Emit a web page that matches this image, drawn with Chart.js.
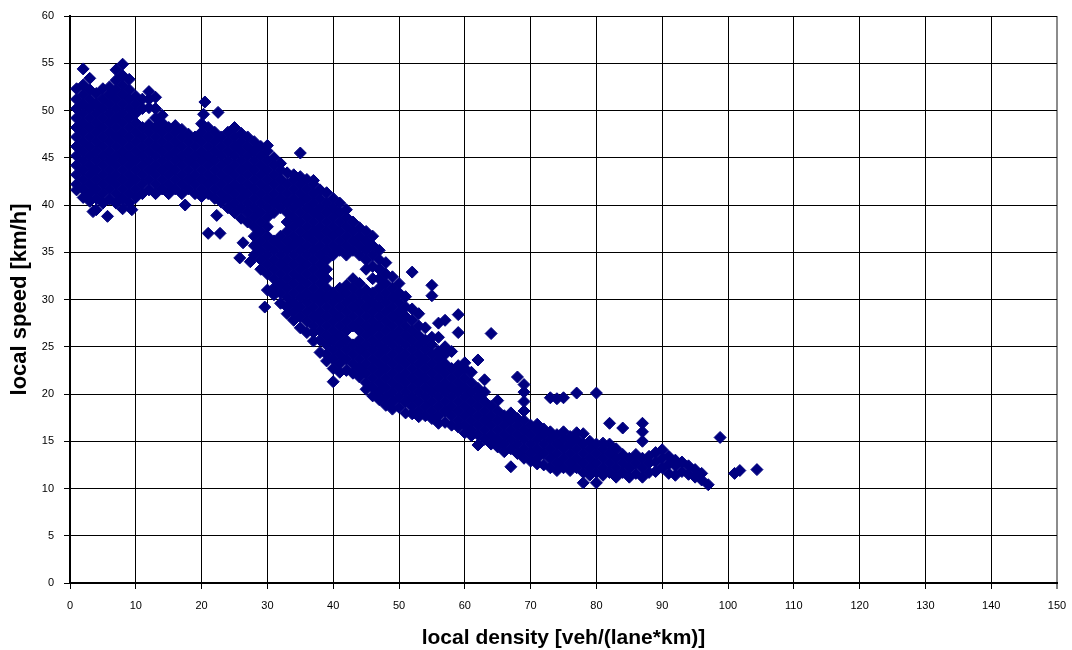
<!DOCTYPE html>
<html>
<head>
<meta charset="utf-8">
<script src="https://cdn.jsdelivr.net/npm/chart.js@4/dist/chart.umd.min.js"></script>
<style>
html,body{margin:0;padding:0;background:#fff;}
canvas{display:block;}
</style>
</head>
<body>
<canvas id="c" width="1072" height="650"></canvas>
<script>
// ---- tick labels / titles ----
const xTicks = [0,10,20,30,40,50,60,70,80,90,100,110,120,130,140,150];
const yTicks = [0,5,10,15,20,25,30,35,40,45,50,55,60];
const xTitle = 'local density [veh/(lane*km)]';
const yTitle = 'local speed [km/h]';

// ---- free-flow part: density column -> speeds read in that column ----
const freeDensity = [1,2,3,4,5,6,7,8,9,10,11,12,13,14,15,16,17,18,19,20,21,22,23,24,25,26,27,28,29,30];
const freeSpeed = [
  [41.6,42.2,43.2,44.2,45.2,46.2,47.2,48.2,49.2,50.2,51.2,52.3],
  [40.8,41.7,42.7,43.7,44.7,45.7,46.7,47.7,48.7,49.7,50.7,51.7,52.7,54.4],
  [40.4,41.2,42.2,43.2,44.2,45.2,46.2,47.2,48.2,49.2,50.2,51.2,52.2,53.4],
  [39.5,40.7,41.7,42.7,43.7,44.7,45.7,46.7,47.7,48.7,49.7,50.7,51.8],
  [40.2,41.2,42.2,43.2,44.2,45.2,46.2,47.2,48.2,49.2,50.2,51.2,52.3],
  [40.6,41.7,42.7,43.7,44.7,45.7,46.7,47.7,48.7,49.7,50.7,51.7,52.5],
  [40.2,41.2,42.2,43.2,44.2,45.2,46.2,47.2,48.2,49.2,50.2,51.2,52.2,53.2,54.3],
  [39.6,40.7,41.7,42.7,43.7,44.7,45.7,46.7,47.7,48.7,49.7,50.7,51.7,52.7,53.7,54.9],
  [40.2,41.2,42.2,43.2,44.2,45.2,46.2,47.2,48.2,49.2,50.2,51.2,52.2,53.3],
  [40.8,41.7,42.7,43.7,44.7,45.7,46.7,47.7,48.7,49.7,50.7,51.5],
  [41.2,42.2,43.2,44.2,45.2,46.2,47.2,48.2,50.2,51.2],
  [41.6,42.7,43.7,44.7,45.7,46.7,47.7,48.5,50.3,51.2,52.0],
  [41.2,42.2,43.2,44.2,45.2,46.2,47.2,48.2,49.2,50.2,51.4],
  [41.7,42.7,43.7,44.7,45.7,46.7,47.7,48.7,49.5],
  [41.2,42.2,43.2,44.2,45.2,46.2,47.2,48.2],
  [41.7,42.7,43.7,44.7,45.7,46.7,47.7,48.4],
  [41.2,42.2,43.2,44.2,45.2,46.2,47.2,48.0],
  [41.7,42.7,43.7,44.7,45.7,46.7,47.5],
  [41.2,42.2,43.2,44.2,45.2,46.2,47.2],
  [40.9,41.7,42.7,43.7,44.7,45.7,46.7,47.7,48.6],
  [41.2,42.2,43.2,44.2,45.2,46.2,47.2,48.2],
  [40.7,41.7,42.7,43.7,44.7,45.7,46.7,47.7],
  [40.3,41.2,42.2,43.2,44.2,45.2,46.2,47.2],
  [39.7,40.7,41.7,42.7,43.7,44.7,45.7,46.7,47.7],
  [39.2,40.2,41.2,42.2,43.2,44.2,45.2,46.2,47.2,48.2],
  [38.6,39.7,40.7,41.7,42.7,43.7,44.7,45.7,46.7,47.6],
  [38.2,39.2,40.2,41.2,42.2,43.2,44.2,45.2,46.2,47.2],
  [34.7,35.7,36.7,37.7,38.7,39.7,40.7,41.7,42.7,43.7,44.7,45.7,46.7],
  [33.2,34.2,35.2,36.2,37.2,38.2,39.2,40.2,41.2,42.2,43.2,44.2,45.2,46.2],
  [31.0,32.7,33.7,34.7,35.7,36.7,37.7,38.7,39.7,40.7,41.7,42.7,43.7,44.7,45.7,46.3]
];

// ---- transition part ----
const transDensity = [31,32,33,34,35,36,37,38,39,40,41,42,43,44,45,46,47,48,49,50,51,52,53,54,55,56,57,58,59,60];
const transSpeed = [
  [30.5,31.2,32.2,33.2,34.2,35.2,36.2,39.2,40.2,41.2,42.2,43.2,44.2,45.0],
  [29.6,30.7,31.7,32.7,33.7,34.7,35.7,36.7,39.7,40.7,41.7,42.7,43.7,44.4],
  [28.5,29.2,30.2,31.2,32.2,33.2,34.2,35.2,36.2,37.2,38.2,39.2,40.2,41.2,42.2,43.4],
  [27.8,28.7,29.7,30.7,31.7,32.7,33.7,34.7,35.7,36.7,37.7,38.7,39.7,40.7,41.7,42.7,43.2],
  [27.0,28.2,29.2,30.2,31.2,32.2,33.2,34.2,35.2,36.2,37.2,38.2,39.2,40.2,41.2,42.2,43.0,45.5],
  [26.5,27.7,28.7,29.7,30.7,31.7,32.7,33.7,34.7,35.7,36.7,37.7,38.7,39.7,40.7,41.7,42.7],
  [25.6,26.5,27.2,28.2,29.2,30.2,31.2,32.2,33.2,34.2,35.2,36.2,37.2,38.2,39.2,40.2,41.2,42.2,42.6],
  [24.4,25.7,26.7,27.7,28.7,29.7,30.7,31.7,32.7,33.7,34.7,35.7,36.7,37.7,38.7,39.7,40.7,41.6],
  [23.5,24.2,25.2,26.2,27.2,28.2,29.2,30.2,31.2,32.2,33.2,34.2,35.2,36.2,37.2,38.2,39.2,40.2,41.3],
  [21.3,22.7,23.7,24.7,25.7,26.7,27.7,28.7,29.7,30.7,34.7,35.7,36.7,37.7,38.7,39.7,40.7],
  [22.3,23.2,24.2,25.2,26.2,27.2,28.2,29.2,30.2,31.2,35.2,36.2,37.2,38.2,39.2,40.2],
  [22.5,23.7,24.7,25.7,26.7,27.7,28.7,29.7,30.7,31.5,34.7,35.7,36.7,37.7,38.7,39.5],
  [22.2,23.2,24.2,25.2,27.2,28.2,29.2,30.2,31.2,32.2,35.2,36.2,37.2,38.2],
  [21.8,22.7,23.7,24.7,25.7,26.7,27.7,28.7,29.7,30.7,31.7,34.7,35.7,36.7,37.6],
  [20.5,21.2,22.2,23.2,24.2,25.2,26.2,27.2,28.2,29.2,30.2,31.0,33.2,34.2,35.2,36.2,37.2],
  [19.8,20.7,21.7,22.7,23.7,24.7,25.7,26.7,27.7,28.7,29.7,30.7,32.2,33.5,34.7,35.7,36.7],
  [19.4,20.2,21.2,22.2,23.2,24.2,25.2,26.2,27.2,28.2,29.2,30.2,31.2,32.2,33.2,34.2,35.2],
  [18.8,19.7,20.7,21.7,22.7,23.7,24.7,25.7,26.7,27.7,28.7,29.7,30.7,31.7,32.7,33.9],
  [18.4,19.2,20.2,21.2,22.2,23.2,24.2,25.2,26.2,27.2,28.2,29.2,30.2,31.2,32.4],
  [18.6,19.7,20.7,21.7,22.7,23.7,24.7,25.7,26.7,27.7,28.7,29.7,30.7,31.7],
  [18.0,19.2,20.2,21.2,22.2,23.2,24.2,25.2,26.2,27.2,28.2,29.2,30.3],
  [17.9,18.7,19.7,20.7,21.7,22.7,23.7,24.7,25.7,26.7,27.8,29.0,32.9],
  [17.6,18.2,19.2,20.2,21.2,22.2,23.2,24.2,25.2,26.2,27.2,28.5],
  [17.7,18.7,19.7,20.7,21.7,22.7,23.7,24.7,25.7,27.0],
  [17.4,18.2,19.2,20.2,21.2,22.2,23.2,24.2,25.2,26.0,30.4,31.5],
  [16.9,17.7,18.7,19.7,20.7,21.7,22.7,23.7,24.5,26.0,27.5],
  [17.0,18.2,19.2,20.2,21.2,22.2,23.2,24.2,25.0,27.8],
  [16.7,17.7,18.7,19.7,20.7,21.7,22.7,24.5],
  [16.5,17.2,18.2,19.2,20.2,21.2,22.2,23.0,26.5,28.4],
  [15.9,16.7,17.7,18.7,19.7,20.7,21.7,22.7,23.3]
];

// ---- congested part ----
const jamDensity = [61,62,63,64,65,66,67,68,69,70,71,72,73,74,75,76,77,78,79,80,81,82,83,84,85,86,87,88,89,90,91,92,93,94,95,96,97];
const jamSpeed = [
  [15.6,16.2,17.2,18.2,19.2,20.2,21.2,22.3],
  [14.6,15.7,16.7,17.7,18.7,19.7,20.6,23.6],
  [15.2,16.2,17.2,18.2,19.2,20.2,21.5],
  [14.7,15.7,16.7,17.7,18.7,26.4],
  [14.4,15.2,16.2,17.2,18.2,19.3],
  [13.9,14.7,15.7,16.7,17.7],
  [12.3,14.2,15.2,16.2,17.2,18.0],
  [13.7,14.7,15.7,16.7,17.4,21.8],
  [13.2,14.2,15.2,16.2,17.2,18.2,19.2,20.2,21.0],
  [12.9,13.7,14.7,15.7,16.7],
  [12.6,13.2,14.2,15.2,16.2,16.8],
  [12.5,13.7,14.7,15.7,16.3],
  [12.2,13.2,14.2,15.2,16.0,19.6],
  [11.9,12.7,13.7,14.7,15.7,19.5],
  [12.2,13.2,14.2,15.2,16.0,19.6],
  [11.9,12.7,13.7,14.7,15.5],
  [12.2,13.2,14.2,15.2,15.9,20.1],
  [10.6,11.7,12.7,13.7,14.7,15.8],
  [11.4,12.2,13.2,14.2,15.0],
  [10.6,11.7,12.7,13.7,14.7,20.1],
  [11.4,12.2,13.2,14.2,14.8],
  [11.7,12.7,13.7,14.7,16.9],
  [11.2,12.2,13.2,14.2],
  [11.7,12.7,13.6,16.4],
  [11.2,12.2,13.2],
  [11.6,12.7,13.6],
  [11.2,12.2,13.2,15.0,16.0,16.9],
  [11.7,12.7,13.4],
  [11.8,12.8,13.8],
  [12.2,13.2,14.1],
  [11.6,12.6,13.4],
  [11.4,12.4,13.0],
  [11.8,12.8],
  [11.5,12.4],
  [11.2,12.0],
  [10.9,11.6],
  [10.4]
];

// ---- isolated points ----
const looseDensity = [5.7, 9.4, 3.5, 17.5, 20.5, 20.3, 22.5, 21.0, 22.3, 22.8, 25.8, 26.3, 27.4, 29.6, 98.8, 101.0, 101.8, 104.4];
const looseSpeed   = [38.8, 39.5, 39.3, 40.0, 50.9, 49.6, 49.8, 37.0, 38.9, 37.0, 34.4, 36.0, 34.0, 29.2, 15.4, 11.6, 11.9, 12.0];

function columnsToPoints(dens, speeds) {
  const pts = [];
  dens.forEach((d, i) => speeds[i].forEach(s => pts.push({ x: d, y: s })));
  return pts;
}
const allPoints = []
  .concat(columnsToPoints(freeDensity, freeSpeed))
  .concat(columnsToPoints(transDensity, transSpeed))
  .concat(columnsToPoints(jamDensity, jamSpeed))
  .concat(looseDensity.map((d, i) => ({ x: d, y: looseSpeed[i] })));

const FONT = '"Liberation Sans", Arial, sans-serif';
const NAVY = '#000080';

new Chart(document.getElementById('c'), {
  type: 'scatter',
  data: {
    datasets: [{
      data: allPoints,
      pointStyle: 'rectRot',
      pointRadius: 6,
      pointHoverRadius: 6,
      backgroundColor: NAVY,
      borderColor: NAVY,
      borderWidth: 1
    }]
  },
  options: {
    responsive: false,
    animation: false,
    events: [],
    layout: { padding: { left: 0, top: 16, right: 15, bottom: 0 } },
    plugins: { legend: { display: false }, tooltip: { enabled: false } },
    scales: {
      x: {
        type: 'linear',
        position: 'bottom',
        min: 0, max: 150,
        afterBuildTicks: s => { s.ticks = xTicks.map(v => ({ value: v })); },
        afterFit: s => { s.height = 67; s.paddingLeft = 0; s.paddingRight = 0; },
        ticks: {
          autoSkip: false, maxRotation: 0, padding: 10,
          color: '#000', font: { family: FONT, size: 11 },
          callback: v => String(v)
        },
        grid: {
          color: c => (c.tick && c.tick.value === 150) ? '#8c8c8c' : '#000',
          lineWidth: c => (c.tick && c.tick.value === 150) ? 2 : 1,
          tickColor: '#000', tickWidth: 1, tickLength: 6
        },
        border: { display: true, color: '#000', width: 2 },
        title: {
          display: true, text: xTitle, color: '#000',
          font: { family: FONT, size: 21, weight: 'bold' },
          padding: { top: 0, bottom: -1 }
        }
      },
      y: {
        type: 'linear',
        position: 'left',
        min: 0, max: 60,
        afterBuildTicks: s => { s.ticks = yTicks.map(v => ({ value: v })); },
        afterFit: s => { s.width = 70; s.paddingTop = 0; s.paddingBottom = 0; },
        ticks: {
          autoSkip: false, padding: 10,
          color: '#000', font: { family: FONT, size: 11 },
          callback: v => String(v)
        },
        grid: {
          color: '#000', lineWidth: 1,
          tickColor: '#000', tickWidth: 1, tickLength: 6
        },
        border: { display: true, color: '#000', width: 2 },
        title: {
          display: true, text: yTitle, color: '#000',
          font: { family: FONT, size: 22, weight: 'bold' },
          padding: { top: 7, bottom: 0 }
        }
      }
    }
  }
});
</script>
</body>
</html>
